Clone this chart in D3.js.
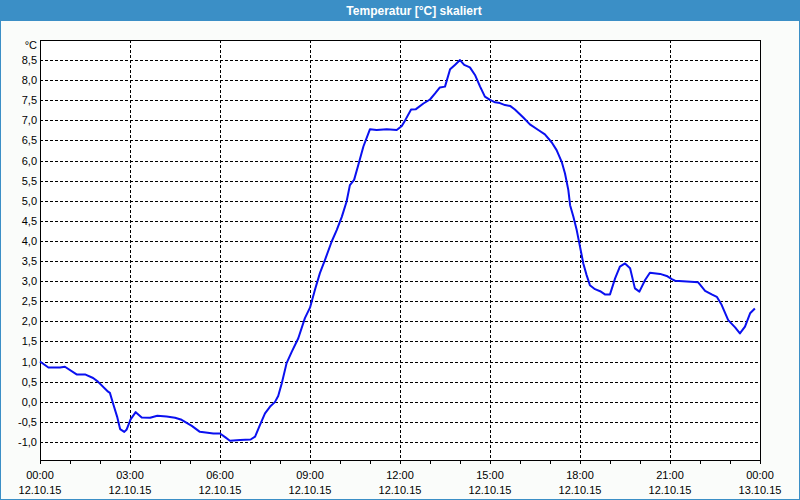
<!DOCTYPE html>
<html><head><meta charset="utf-8">
<script src="https://cdn.jsdelivr.net/npm/d3@7"></script>
<style>
html,body{margin:0;padding:0;background:#fff;}
svg{display:block;}
text{font-family:"Liberation Sans",Arial,sans-serif;}
</style></head>
<body>
<svg id="c" width="800" height="500"></svg>
<script>
const title = "Temperatur [°C] skaliert";
const unit = "°C";
// hours since 12.10.15 00:00
const hours = [0.00,0.28,0.67,0.83,1.22,1.50,1.77,1.93,2.27,2.33,2.43,2.57,2.67,2.81,2.89,3.02,3.19,3.39,3.67,3.91,4.22,4.50,4.72,5.06,5.33,5.78,6.00,6.17,6.33,6.67,7.02,7.17,7.33,7.50,7.67,7.83,7.94,8.06,8.22,8.39,8.61,8.83,9.00,9.17,9.33,9.50,9.72,9.89,10.06,10.22,10.33,10.47,10.61,10.78,11.00,11.22,11.56,11.89,12.06,12.17,12.37,12.53,12.78,13.00,13.17,13.33,13.50,13.67,13.83,14.00,14.14,14.33,14.50,14.67,14.83,15.00,15.17,15.33,15.50,15.67,15.83,16.11,16.33,16.61,16.83,17.06,17.22,17.39,17.50,17.61,17.67,17.78,17.89,18.00,18.11,18.22,18.33,18.50,18.67,18.83,19.00,19.17,19.33,19.50,19.67,19.83,19.98,20.17,20.33,20.67,20.89,21.06,21.17,21.56,21.94,22.17,22.39,22.56,22.72,22.94,23.17,23.33,23.50,23.67,23.83];
const temps = [1.00,0.85,0.85,0.87,0.68,0.68,0.59,0.50,0.25,0.22,-0.03,-0.37,-0.68,-0.75,-0.69,-0.44,-0.26,-0.39,-0.40,-0.35,-0.37,-0.40,-0.45,-0.60,-0.75,-0.79,-0.79,-0.88,-0.97,-0.95,-0.94,-0.87,-0.58,-0.29,-0.12,-0.01,0.14,0.46,0.96,1.24,1.58,2.08,2.34,2.80,3.20,3.53,3.98,4.27,4.60,4.98,5.39,5.52,5.89,6.35,6.78,6.76,6.78,6.76,6.86,7.00,7.27,7.28,7.42,7.52,7.67,7.82,7.84,8.27,8.38,8.50,8.38,8.32,8.13,7.84,7.59,7.51,7.45,7.43,7.38,7.36,7.27,7.07,6.90,6.76,6.65,6.45,6.26,5.97,5.68,5.27,4.89,4.60,4.27,3.86,3.44,3.15,2.90,2.80,2.75,2.67,2.67,3.07,3.36,3.44,3.32,2.82,2.74,3.03,3.21,3.18,3.13,3.05,3.01,2.99,2.97,2.76,2.67,2.61,2.41,2.03,1.85,1.70,1.87,2.20,2.32];
const xTickHours = [0,3,6,9,12,15,18,21,24];
const xTickTimes = ["00:00","03:00","06:00","09:00","12:00","15:00","18:00","21:00","00:00"];
const xTickDates = ["12.10.15","12.10.15","12.10.15","12.10.15","12.10.15","12.10.15","12.10.15","12.10.15","13.10.15"];
const yTicks = [-1.0,-0.5,0.0,0.5,1.0,1.5,2.0,2.5,3.0,3.5,4.0,4.5,5.0,5.5,6.0,6.5,7.0,7.5,8.0,8.5];

const W = 800, H = 500;
const L = 40, R = 760, T = 40, B = 460;
const svg = d3.select("#c");

// frame background
svg.append("rect").attr("x",0).attr("y",0).attr("width",W).attr("height",H).attr("fill","#3b8fc6");
svg.append("rect").attr("x",1).attr("y",21).attr("width",W-2).attr("height",H-22).attr("fill","#fafcfa");
svg.append("text").attr("x",414).attr("y",15).attr("text-anchor","middle")
  .attr("fill","#fff").attr("font-weight","bold").attr("font-size","12px").text(title);

const x = d3.scaleLinear().domain([0,24]).range([L,R]);
const y = d3.scaleLinear().domain([-1.45,9.0]).range([B,T]);

svg.append("rect").attr("x",L).attr("y",T).attr("width",R-L).attr("height",B-T).attr("fill","#fff");

// grid
const g = svg.append("g").attr("shape-rendering","crispEdges");
g.selectAll("line.hg").data(yTicks).join("line")
  .attr("x1",L).attr("x2",R).attr("y1",d=>Math.round(y(d))+0.5).attr("y2",d=>Math.round(y(d))+0.5)
  .attr("stroke","#000").attr("stroke-dasharray","3,2");
g.selectAll("line.vg").data(xTickHours.slice(1,-1)).join("line")
  .attr("y1",T).attr("y2",B).attr("x1",d=>Math.round(x(d))+0.5).attr("x2",d=>Math.round(x(d))+0.5)
  .attr("stroke","#000").attr("stroke-dasharray","3,2");

// minor ticks on x axis (hourly)
const xAxis = d3.axisBottom(x).tickValues(d3.range(0,25,1)).tickSize(4).tickFormat("");
const xa = svg.append("g").attr("transform",`translate(0,${B})`).call(xAxis);
xa.select(".domain").remove();
xa.selectAll("line").attr("stroke","#000").attr("shape-rendering","crispEdges");

// y labels
const fmt = d => d3.format(".1f")(d).replace(".",",").replace("−","-");
svg.selectAll("text.yl").data(yTicks).join("text").attr("class","yl")
  .attr("x",37).attr("y",d=>y(d)+4).attr("text-anchor","end").attr("font-size","11px").attr("fill","#000")
  .text(fmt);
svg.append("text").attr("x",37).attr("y",49).attr("text-anchor","end").attr("font-size","11px").text(unit);

// x labels
const xl = svg.selectAll("text.xl").data(xTickHours).join("text").attr("class","xl")
  .attr("text-anchor","middle").attr("font-size","11px").attr("fill","#000");
xl.append("tspan").attr("x",d=>x(d)).attr("y",479).text((d,i)=>xTickTimes[i]);
xl.append("tspan").attr("x",d=>x(d)).attr("y",494).text((d,i)=>xTickDates[i]);

// frame
svg.append("rect").attr("x",L+0.5).attr("y",T+0.5).attr("width",R-L).attr("height",B-T)
  .attr("fill","none").attr("stroke","#000").attr("shape-rendering","crispEdges");

// line
const data = hours.map((h,i)=>[h,temps[i]]);
svg.append("path").datum(data)
  .attr("d", d3.line().x(d=>x(d[0])).y(d=>y(d[1])))
  .attr("fill","none").attr("stroke","#0a10f0").attr("stroke-width",2).attr("stroke-linejoin","round");
</script>
</body></html>
